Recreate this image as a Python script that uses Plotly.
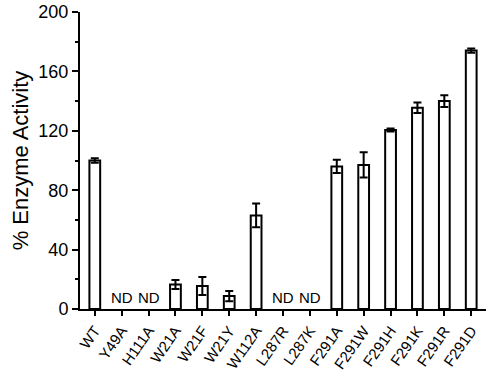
import plotly.graph_objects as go

categories = ["WT", "Y49A", "H111A", "W21A", "W21F", "W21Y", "W112A", "L287R",
              "L287K", "F291A", "F291W", "F291H", "F291K", "F291R", "F291D"]
activity = [100, None, None, 16.5, 15.5, 8.7, 63, None, None, 96, 97, 120.5, 135.5, 140, 174]
errors = [1.5, None, None, 3, 6, 3.5, 8, None, None, 4.5, 8.5, 1, 3.5, 4, 1.5]
nd_label = "ND"

xs = list(range(len(categories)))
bx = [x for x, v in zip(xs, activity) if v is not None]
by = [v for v in activity if v is not None]
be = [e for e, v in zip(errors, activity) if v is not None]

fig = go.Figure()
fig.add_trace(go.Bar(
    x=bx, y=by, width=0.4,
    marker=dict(color="white", line=dict(color="black", width=2)),
    error_y=dict(type="data", array=be, visible=True, color="black", thickness=2, width=4),
    showlegend=False,
))

for x, v in zip(xs, activity):
    if v is None:
        fig.add_annotation(x=x, y=0, text=nd_label, showarrow=False, yanchor="bottom", yshift=1,
                           font=dict(family="Liberation Sans, Arial", size=15, color="black"))

fig.update_layout(
    width=492, height=375,
    margin=dict(l=80, r=6, t=12, b=66),
    plot_bgcolor="white", paper_bgcolor="white",
    font=dict(family="Liberation Sans, Arial", color="black"),
    bargap=0.6,
)
fig.update_xaxes(
    range=[-0.55, 14.55], tickmode="array", tickvals=xs, ticktext=categories,
    tickangle=-55, ticks="outside", ticklen=5, tickwidth=2, tickcolor="black",
    showline=True, linecolor="black", linewidth=2, showgrid=False, zeroline=False,
    tickfont=dict(size=15), automargin=False,
)
fig.update_yaxes(
    range=[0, 200], tickvals=[0, 40, 80, 120, 160, 200],
    ticks="outside", ticklen=6, tickwidth=2, tickcolor="black",
    minor=dict(tickvals=[20, 60, 100, 140, 180], ticks="outside", ticklen=3, tickwidth=2, tickcolor="black"),
    showline=True, linecolor="black", linewidth=2, showgrid=False, zeroline=False,
    tickfont=dict(size=18), automargin=False,
    title=dict(text="% Enzyme Activity", font=dict(size=22), standoff=4),
)

# remove the browser's default 8px body margin so the figure fills the window
fig.write_html("out.html", config={"displayModeBar": False},
               post_script="document.body.style.margin='0';")
